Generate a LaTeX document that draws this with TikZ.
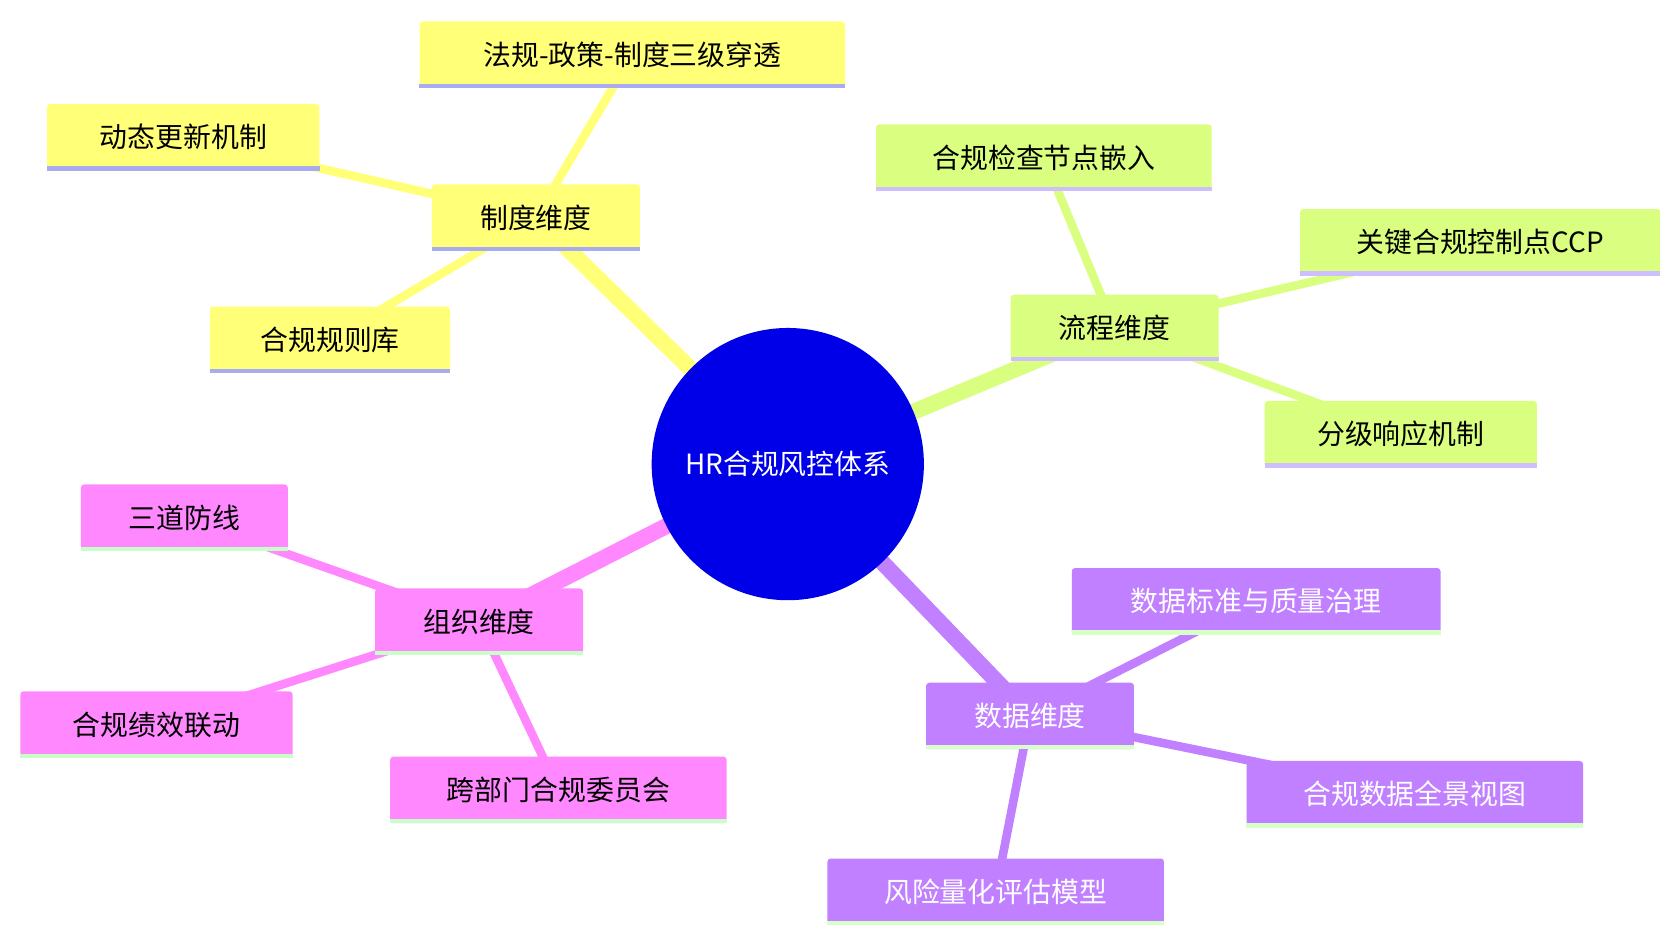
\documentclass[tikz,border=0pt]{standalone}
\usepackage{fontspec}
\setmainfont{Noto Sans CJK SC}
\definecolor{yel}{RGB}{255,255,120}
\definecolor{yelb}{RGB}{170,170,240}
\definecolor{grn}{RGB}{218,255,128}
\definecolor{grnb}{RGB}{205,190,255}
\definecolor{pnk}{RGB}{255,136,255}
\definecolor{pnkb}{RGB}{200,255,200}
\definecolor{pur}{RGB}{192,128,255}
\definecolor{purb}{RGB}{215,255,200}
\definecolor{cen}{RGB}{0,0,232}
\tikzset{
 box/.style={rounded corners=3pt,minimum height=62pt,inner xsep=14pt,font=\fontsize{26}{30}\selectfont},
 yb/.style={box,fill=yel},
 gb/.style={box,fill=grn},
 pb/.style={box,fill=pnk},
 ub/.style={box,fill=pur,text=white},
 big/.style={line width=15pt},
 sm/.style={line width=8pt},
}
\newcommand{\uline}[2]{\draw[line width=4pt,#2] ([yshift=2pt]#1.south west)--([yshift=2pt]#1.south east);}
\begin{document}
\begin{tikzpicture}[x=1pt,y=-1pt]
\useasboundingbox (0,0) rectangle (1560,878);
\coordinate (c) at (735,433);
\coordinate (d1) at (500,203);
\coordinate (d2) at (1040,306);
\coordinate (d3) at (447,580);
\coordinate (d4) at (961,668);
% edges
\draw[big,yel] (c)--(d1);
\draw[big,grn] (c)--(d2);
\draw[big,pnk] (c)--(d3);
\draw[big,pur] (c)--(d4);
\draw[sm,yel] (d1)--(590,51) (d1)--(171,128) (d1)--(308,317);
\draw[sm,grn] (d2)--(974,147) (d2)--(1381,226) (d2)--(1307,405);
\draw[sm,pnk] (d3)--(172,483) (d3)--(146,676) (d3)--(521,737);
\draw[sm,pur] (d4)--(1172,561) (d4)--(1320,741) (d4)--(929,832);
% center
\node[circle,fill=cen,minimum size=254pt,text=white,font=\fontsize{26}{30}\selectfont] (C) at (c) {HR合规风控体系};
% dimensions
\node[yb,minimum width=194pt] (A) at (d1) {制度维度}; \uline{A}{yelb}
\node[gb,minimum width=194pt] (B) at (d2) {流程维度}; \uline{B}{grnb}
\node[pb,minimum width=194pt] (D) at (d3) {组织维度}; \uline{D}{pnkb}
\node[ub,minimum width=194pt] (E) at (d4) {数据维度}; \uline{E}{purb}
% leaves
\node[yb,minimum width=397pt] (A1) at (590,51) {法规-政策-制度三级穿透}; \uline{A1}{yelb}
\node[yb,minimum width=254pt] (A2) at (171,128) {动态更新机制}; \uline{A2}{yelb}
\node[yb,minimum width=224pt] (A3) at (308,317) {合规规则库}; \uline{A3}{yelb}
\node[gb,minimum width=313pt] (B1) at (974,147) {合规检查节点嵌入}; \uline{B1}{grnb}
\node[gb,minimum width=336pt] (B2) at (1381,226) {关键合规控制点CCP}; \uline{B2}{grnb}
\node[gb,minimum width=254pt] (B3) at (1307,405) {分级响应机制}; \uline{B3}{grnb}
\node[pb,minimum width=193pt] (D1) at (172,483) {三道防线}; \uline{D1}{pnkb}
\node[pb,minimum width=254pt] (D2) at (146,676) {合规绩效联动}; \uline{D2}{pnkb}
\node[pb,minimum width=314pt] (D3) at (521,737) {跨部门合规委员会}; \uline{D3}{pnkb}
\node[ub,minimum width=344pt] (E1) at (1172,561) {数据标准与质量治理}; \uline{E1}{purb}
\node[ub,minimum width=314pt] (E2) at (1320,741) {合规数据全景视图}; \uline{E2}{purb}
\node[ub,minimum width=314pt] (E3) at (929,832) {风险量化评估模型}; \uline{E3}{purb}
\end{tikzpicture}
\end{document}
